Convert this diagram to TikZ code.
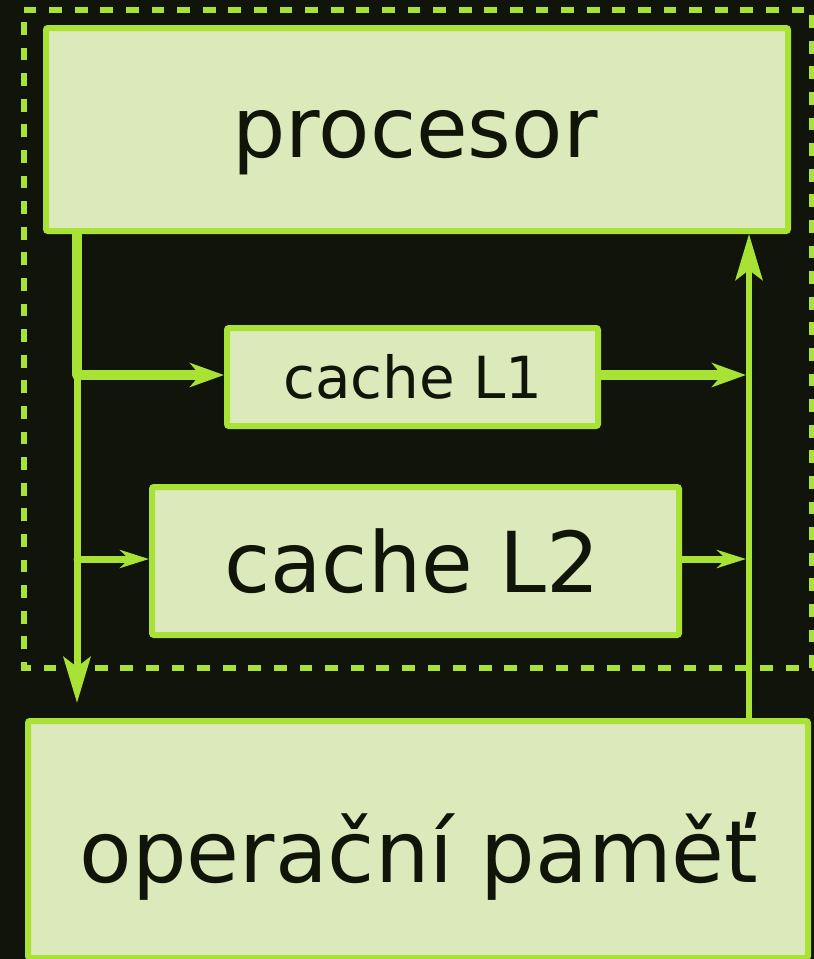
\documentclass[tikz,border=0pt]{standalone}
\usepackage{fontspec}
\setmainfont{DejaVu Sans}
\usetikzlibrary{arrows.meta}
\definecolor{bgdark}{HTML}{10140A}
\definecolor{cachelime}{HTML}{A8E234}
\definecolor{paleface}{HTML}{DCE9BA}
\definecolor{inkdark}{HTML}{111509}
\tikzset{
  unitbox/.style={draw=cachelime, fill=paleface, line width=6pt,
    rounded corners=2pt, inner sep=0pt},
  bigtext/.style={anchor=base, inner sep=0pt, text=inkdark,
    font=\fontsize{84}{100}\selectfont},
  smalltext/.style={anchor=base, inner sep=0pt, text=inkdark,
    font=\fontsize{58}{70}\selectfont},
  wire/.style={draw=cachelime, line cap=round},
  heavytip/.style={-{Stealth[length=34pt,width=24pt,inset=10pt]}},
  longtip/.style={-{Stealth[length=46pt,width=27pt,inset=10pt]}},
  lighttip/.style={-{Stealth[length=29pt,width=18pt,inset=9pt]}},
}
\begin{document}
\begin{tikzpicture}[x=1pt,y=-1pt]
  % canvas
  \fill[bgdark] (0,0) rectangle (814,959);
  \useasboundingbox (0,0) rectangle (814,959);

  % dashed outline of the processor chip
  \draw[cachelime, line width=6pt, dash pattern=on 12.8pt off 12.8pt]
    (23.5,10) -- (812,10) -- (812,667.5) -- (23.5,667.5) -- cycle;

  % units
  \node[unitbox, minimum width=742pt, minimum height=203pt] (proc) at (417,129.5) {};
  \node[unitbox, minimum width=371pt, minimum height=98pt]  (l1)   at (412.5,377) {};
  \node[unitbox, minimum width=527pt, minimum height=148pt] (l2)   at (415.5,561) {};
  \node[unitbox, minimum width=780pt, minimum height=237pt] (mem)  at (418,839.5) {};

  % labels
  \node[bigtext]   (proctext) at (415,157) {procesor};
  \node[smalltext] (l1text)   at (413,398) {cache L1};
  \node[bigtext]   (l2text)   at (412,592) {cache L2};
  \node[bigtext, font=\fontsize{86}{100}\selectfont] (memtext) at (419,882) {operační paměť};

  % branching points
  \coordinate (split1) at (77,375);
  \coordinate (split2) at (77,559);
  \coordinate (downend) at (77,703);
  \coordinate (join1) at (746,375);
  \coordinate (join2) at (746,559);
  \coordinate (rail) at (749,0);

  % request path from the processor
  \draw[wire, line width=10pt, line cap=butt] (proc.south -| split1) -- (split1);
  \draw[wire, line width=7pt, longtip] (split1) -- (downend);
  \draw[wire, line width=10pt, heavytip] (split1) -- (split1 -| l1.west);
  \draw[wire, line width=7pt, lighttip] (split2) -- (split2 -| l2.west);

  % return path to the processor
  \draw[wire, line width=10pt, heavytip] (join1 -| l1.east) -- (join1);
  \draw[wire, line width=7pt, lighttip] (join2 -| l2.east) -- (join2);
  \draw[wire, line width=6.5pt, line cap=butt, longtip] (mem.north -| rail) -- (proc.south -| rail);
\end{tikzpicture}
\end{document}
